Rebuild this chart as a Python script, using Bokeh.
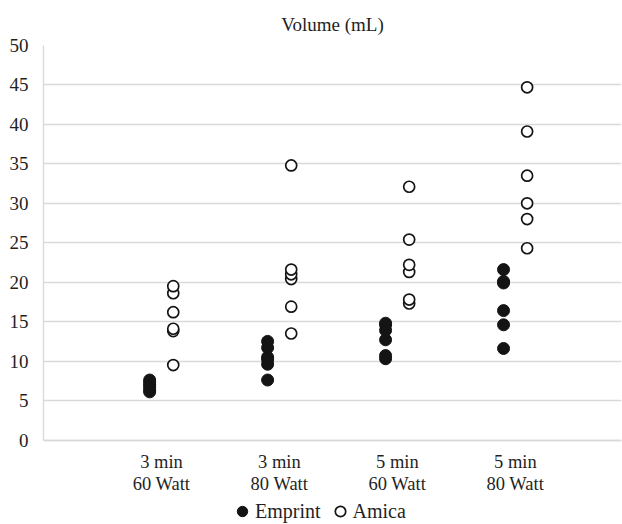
from bokeh.plotting import figure
from bokeh.models import Range1d, FixedTicker, Legend, LegendItem, ColumnDataSource
from bokeh.embed import file_html
from bokeh.resources import INLINE

# ---- data ----
categories = ["3 min\n60 Watt", "3 min\n80 Watt", "5 min\n60 Watt", "5 min\n80 Watt"]
emprint = [
    [6.1, 6.3, 6.7, 7.0, 7.3, 7.6],
    [7.6, 9.6, 10.2, 10.5, 11.7, 12.5],
    [10.3, 10.7, 12.7, 13.9, 14.6, 14.8],
    [11.6, 14.6, 16.4, 19.9, 20.1, 21.6],
]
amica = [
    [9.5, 13.8, 14.1, 16.2, 18.6, 19.5],
    [13.5, 16.9, 20.4, 21.0, 21.6, 34.8],
    [17.3, 17.8, 21.3, 22.2, 25.4, 32.1],
    [24.3, 28.0, 30.0, 33.5, 39.1, 44.7],
]
series_names = ["Emprint", "Amica"]
y_ticks = [0, 5, 10, 15, 20, 25, 30, 35, 40, 45, 50]

OFFSET = 0.1
FONT = "Liberation Serif"
TXT = "#1f1f1f"
GRID = "#d9d9d9"

W, H = 622, 524
TOP, ZERO_PX, LEFT = 45, 439.5, 43
px_per_unit = (ZERO_PX - TOP) / 50.0
y_bottom = -(H - ZERO_PX) / px_per_unit   # extra room under the axis for labels + legend

def build(groups, off):
    xs, ys = [], []
    for i, vals in enumerate(groups):
        for v in vals:
            xs.append(i + 1 + off)
            ys.append(v)
    return ColumnDataSource(dict(x=xs, y=ys))

src_e = build(emprint, -OFFSET)
src_a = build(amica, OFFSET)

p = figure(width=W, height=H, output_backend="svg", toolbar_location=None,
           x_range=Range1d(0, 4.9), y_range=Range1d(y_bottom, 50),
           min_border_left=LEFT, min_border_right=1, min_border_top=TOP, min_border_bottom=0)

p.title.text = "Volume (mL)"
p.title.align = "center"
p.title.text_font = FONT
p.title.text_font_size = "19px"
p.title.text_font_style = "normal"
p.title.text_color = TXT
p.title.standoff = 22

p.outline_line_color = None
p.background_fill_color = "white"
p.border_fill_color = "white"

p.xgrid.grid_line_color = None
p.ygrid.grid_line_color = GRID
p.ygrid.grid_line_width = 1.3

p.yaxis.ticker = FixedTicker(ticks=y_ticks)
p.yaxis.bounds = (0, 50)
p.xaxis.ticker = FixedTicker(ticks=[1, 2, 3, 4])
p.xaxis.major_label_overrides = {i + 1: c for i, c in enumerate(categories)}
p.xaxis.fixed_location = 0

for ax in (p.xaxis[0], p.yaxis[0]):
    ax.axis_line_color = GRID
    ax.axis_line_width = 1.3
    ax.major_tick_line_color = None
    ax.minor_tick_line_color = None
    ax.major_label_text_font = FONT
    ax.major_label_text_color = TXT

p.yaxis.major_label_text_font_size = "19px"
p.yaxis.major_label_standoff = 9
p.xaxis.major_label_text_font_size = "18.5px"
p.xaxis.major_label_text_line_height = 1.1
p.xaxis.major_label_standoff = 6

r_e = p.scatter("x", "y", source=src_e, marker="circle", size=12,
                fill_color="#141414", line_color="#141414", line_width=1)
r_a = p.scatter("x", "y", source=src_a, marker="circle", size=11,
                fill_color="white", line_color="#141414", line_width=1.7)

legend = Legend(items=[LegendItem(label=series_names[0], renderers=[r_e]),
                       LegendItem(label=series_names[1], renderers=[r_a])],
                orientation="horizontal", location=(186, 0),
                border_line_color=None, background_fill_alpha=0,
                label_text_font=FONT, label_text_font_size="20px", label_text_color=TXT,
                glyph_width=26, glyph_height=26, label_standoff=0, spacing=6,
                padding=0, margin=0)
p.add_layout(legend, "center")

open("out.html", "w").write(file_html(p, INLINE))
